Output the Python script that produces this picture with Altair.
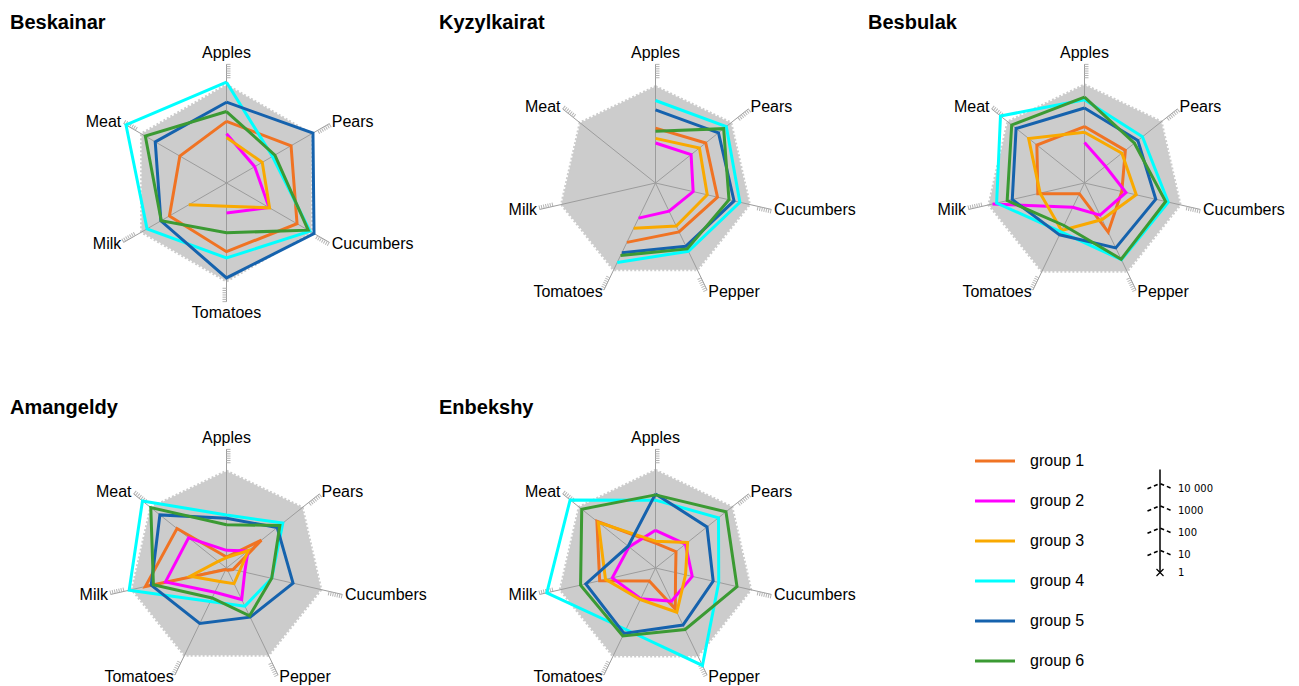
import altair as alt
import pandas as pd

# ---------------- data ----------------
groups = ["group 1", "group 2", "group 3", "group 4", "group 5", "group 6"]
colors = ["#f07323", "#ff00ff", "#f9a900", "#00ffff", "#1562ad", "#3b9a33"]

axes6 = ["Apples", "Pears", "Cucumbers", "Tomatoes", "Milk", "Meat"]
axes7 = ["Apples", "Pears", "Cucumbers", "Pepper", "Tomatoes", "Milk", "Meat"]

regions = ["Beskainar", "Kyzylkairat", "Besbulak", "Amangeldy", "Enbekshy"]
region_axes = [axes6, axes7, axes7, axes7, axes7]
gray_max = [25000, 21000, 25000, 22000, 24000]

beskainar = [
    [580, 2200, 4500, 1200, 900, 260],
    [160, 29, 160, 22, None, None],
    [110, 71, 170, 11, 90, None],
    [33000, 240, 21000, 2300, 13000, 160000],
    [4200, 30000, 34000, 18000, 2500, 4900],
    [1600, 320, 17000, 170, 2400, 16000],
]
kyzylkairat = [
    [290, 760, 710, 270, 900, None, None],
    [62, 110, 54, 25, 56, None, None],
    [100, 330, 240, 140, 180, None, None],
    [5000, 11500, 7600, 2500, 9000, None, None],
    [1900, 4100, 4100, 1400, 3000, None, None],
    [210, 8100, 2400, 1900, 4100, None, None],
]
besbulak = [
    [340, 220, 52, 280, 3.4, 140, 540],
    [66, 16, 81, 40, 16, 17000, None],
    [190, 140, 240, 66, 230, 110, 1600],
    [5400, 2100, 7100, 6600, 270, 11000, 66000],
    [2300, 1150, 1900, 1700, 380, 2100, 8400],
    [7100, 730, 5400, 6200, 130, 3600, 15000],
]
amangeldy = [
    [3.1, 100, 2.0, 1.3, 1.2, 5400, 690],
    [6.2, 17, 6.9, 37, 16, 640, 150],
    [2.9, 18, 4.0, 6.0, 4.7, 47, 3.0],
    [240, 1700, 120, 79, 47, 30000, 66000],
    [170, 810, 1150, 280, 580, 2900, 6600],
    [87, 1150, 120, 240, 31, 2300, 22000],
]
enbekshy = [
    [13, 15, 8.4, 110, 4.4, 370, 2300],
    [49, 52, 49, 45, 34, 97, 33],
    [16, 69, 24, 160, 37, 200, 1900],
    [1100, 4100, 810, 71000, 1150, 100000, 79000],
    [2100, 900, 450, 690, 1800, 1600, 37],
    [1900, 11000, 5600, 1150, 2400, 2800, 17000],
]
region_series = [beskainar, kyzylkairat, besbulak, amangeldy, enbekshy]

scale_values = [1, 10, 100, 1000, 10000]
scale_labels = ["1", "10", "100", "1000", "10 000"]

# ---------------- layout / style ----------------
K = 22.3          # pixels per decade
W = 409
H1, H2 = 320, 255
CX, CY = 216.5, 144
AXIS_R = 5.33
TICK_R = [4.72, 4.82, 4.92, 5.02, 5.12, 5.22, 5.32]
FONT = "Liberation Sans"

color_scale = alt.Scale(domain=groups, range=colors)


def radar(name, axes, series, gmax, H):
    n = len(axes)
    rows = []
    for gi, vals in enumerate(series):
        pts = [(i, v) for i, v in enumerate(vals) if v is not None]
        for o, (i, v) in enumerate(pts):
            rows.append(dict(group=groups[gi], idx=i, n=n, value=v, order=o))
        if len(pts) == n:
            rows.append(dict(group=groups[gi], idx=pts[0][0], n=n, value=pts[0][1], order=n))
    line_df = pd.DataFrame(rows)
    axis_df = pd.DataFrame({"axis": axes, "idx": list(range(n)), "n": n})
    gray_df = pd.DataFrame({"idx": list(range(n)) + [0], "n": n, "value": gmax,
                            "order": list(range(n + 1))})
    tick_df = pd.DataFrame([dict(idx=i, n=n, t=t) for i in range(n) for t in TICK_R])

    xs = alt.Scale(domain=[-CX / K, (W - CX) / K], nice=False, zero=False)
    ys = alt.Scale(domain=[-(H - CY) / K, CY / K], nice=False, zero=False)
    X = lambda f: alt.X(f, scale=xs, axis=None)
    Y = lambda f: alt.Y(f, scale=ys, axis=None)

    def polar(ch):
        return (ch.transform_calculate(ang="PI/2 - datum.idx*2*PI/datum.n")
                  .transform_calculate(ca="cos(datum.ang)")
                  .transform_calculate(sa="sin(datum.ang)"))

    def valxy(ch):
        return (polar(ch).transform_calculate(r="log(datum.value)/LN10")
                .transform_calculate(x="datum.r*datum.ca")
                .transform_calculate(y="datum.r*datum.sa"))

    gray = valxy(alt.Chart(gray_df)).mark_line(
        fill="#cccccc", stroke="#cccccc", strokeWidth=3, strokeDash=[2, 2]
    ).encode(x=X("x:Q"), y=Y("y:Q"), order="order:Q")

    rules = (polar(alt.Chart(axis_df))
             .transform_calculate(x0="0", y0="0")
             .transform_calculate(ex=f"{AXIS_R}*datum.ca")
             .transform_calculate(ey=f"{AXIS_R}*datum.sa")
             .mark_rule(color="#9c9c9c", strokeWidth=1)
             .encode(x=X("x0:Q"), y=Y("y0:Q"), x2="ex:Q", y2="ey:Q"))

    ticks = (polar(alt.Chart(tick_df))
             .transform_calculate(tx="datum.t*datum.ca")
             .transform_calculate(ty="datum.t*datum.sa")
             .transform_calculate(tangle="datum.idx*360/datum.n")
             .mark_point(shape="M0,0L1,0", size=64, filled=False,
                         stroke="#b4b4b4", strokeWidth=1, opacity=1)
             .encode(x=X("tx:Q"), y=Y("ty:Q"), angle=alt.Angle("tangle:Q", scale=None)))

    lines = valxy(alt.Chart(line_df)).mark_line(strokeWidth=3, strokeJoin="miter").encode(
        x=X("x:Q"), y=Y("y:Q"),
        color=alt.Color("group:N", scale=color_scale, legend=None),
        order="order:Q", detail="group:N")

    lab = (polar(alt.Chart(axis_df))
           .transform_calculate(lr="abs(datum.ca) <= 0.1 ? 5.82 : 5.45")
           .transform_calculate(lx="datum.lr*datum.ca")
           .transform_calculate(ly="datum.lr*datum.sa"))
    tkw = dict(fontSize=16, font=FONT, color="black", baseline="middle")
    lab_r = lab.transform_filter("datum.ca > 0.1").mark_text(align="left", **tkw).encode(
        x=X("lx:Q"), y=Y("ly:Q"), text="axis:N")
    lab_l = lab.transform_filter("datum.ca < -0.1").mark_text(align="right", **tkw).encode(
        x=X("lx:Q"), y=Y("ly:Q"), text="axis:N")
    lab_c = lab.transform_filter("abs(datum.ca) <= 0.1").mark_text(align="center", **tkw).encode(
        x=X("lx:Q"), y=Y("ly:Q"), text="axis:N")

    return alt.layer(gray, rules, ticks, lines, lab_r, lab_l, lab_c).properties(
        width=W, height=H,
        title=alt.TitleParams(name, anchor="start", frame="group", fontSize=20,
                              fontWeight="bold", font=FONT, color="black", offset=6))


panels = [radar(regions[i], region_axes[i], region_series[i], gray_max[i],
                H1 if i < 3 else H2) for i in range(5)]

# ---------------- legend + scale indicator panel ----------------
leg_df = pd.DataFrame({"group": groups})
leg_y = alt.Y("group:N", axis=None,
              scale=alt.Scale(type="point", domain=groups, range=[37, 237], padding=0))
leg_rules = alt.Chart(leg_df).mark_rule(strokeWidth=3).encode(
    x=alt.value(107), x2=alt.value(147), y=leg_y,
    color=alt.Color("group:N", scale=color_scale, legend=None))
leg_text = alt.Chart(leg_df).mark_text(align="left", baseline="middle", fontSize=16,
                                       font=FONT, color="black").encode(
    x=alt.value(162), y=leg_y, text="group:N")

sc_df = pd.DataFrame({"v": scale_values, "label": scale_labels})
sc_y = alt.Y("v:Q", axis=None,
             scale=alt.Scale(type="log", domain=[1, 10000], range=[148.5, 59.5]))
ind_rule = alt.Chart(pd.DataFrame({"v": [1]})).mark_rule(color="black", strokeWidth=1.5).encode(
    x=alt.value(292), y=alt.value(45.5), y2=alt.value(148.5))
chevrons = alt.Chart(sc_df).transform_filter("datum.v > 1").mark_point(
    shape="M-1,0.42L0,0L1,0.42", size=625, filled=False, stroke="black",
    strokeWidth=1.6, strokeDash=[4, 3], opacity=1).encode(x=alt.value(292), y=sc_y)
cross = alt.Chart(sc_df).transform_filter("datum.v == 1").mark_point(
    shape="M-1,-1L1,1M-1,1L1,-1", size=49, filled=False, stroke="black",
    strokeWidth=1.2, opacity=1).encode(x=alt.value(292), y=sc_y)
sc_text = alt.Chart(sc_df).transform_filter("datum.v > 1").mark_text(
    align="left", baseline="middle", fontSize=10, font="DejaVu Sans", dy=5,
    color="black").encode(x=alt.value(310), y=sc_y, text="label:N")
sc_text1 = alt.Chart(sc_df).transform_filter("datum.v == 1").mark_text(
    align="left", baseline="middle", fontSize=10, font="DejaVu Sans",
    color="black").encode(x=alt.value(310), y=sc_y, text="label:N")

legend_panel = alt.layer(leg_rules, leg_text, ind_rule, chevrons, cross, sc_text, sc_text1
                         ).resolve_scale(y="independent").properties(width=W, height=H2)

chart = alt.concat(*panels, legend_panel, columns=3, bounds="flush",
                   spacing={"row": 65, "column": 20}).properties(
    padding={"left": 2, "top": 5, "right": 0, "bottom": 0}
).configure_view(stroke=None)

chart.save("out.html", embed_options={"renderer": "svg", "actions": False})
